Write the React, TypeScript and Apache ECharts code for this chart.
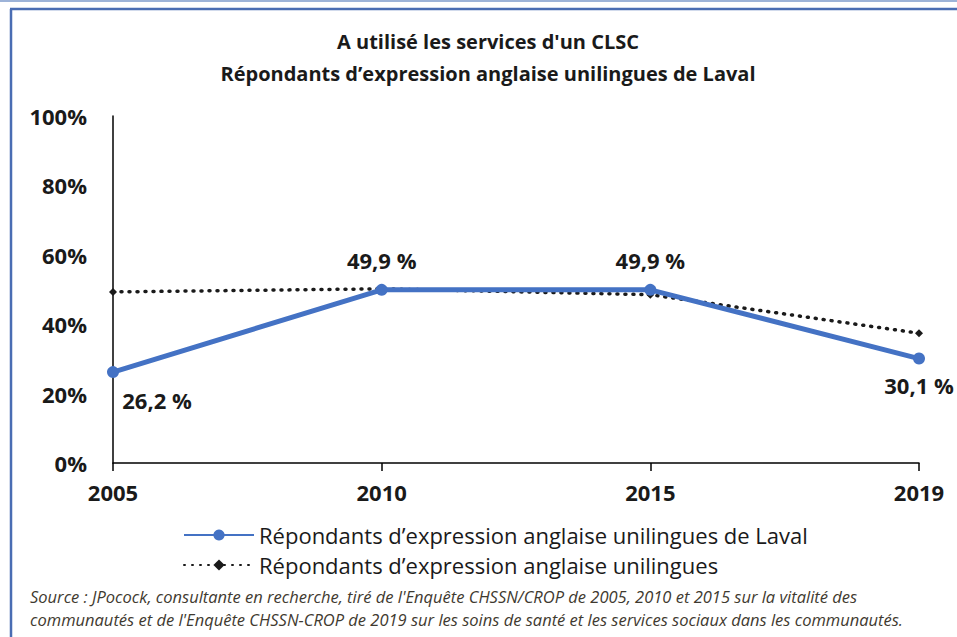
import React, { useEffect, useRef } from "react";
import * as echarts from "echarts";

const categories = ["2005", "2010", "2015", "2019"];
const lavalValues = [26.2, 49.9, 49.9, 30.1];
const allValues = [49.3, 50.2, 48.5, 37.4];
const yTicks = { min: 0, max: 100, interval: 20 };
const titleLines = ["A utilisé les services d'un CLSC", "Répondants d’expression anglaise unilingues de Laval"];
const seriesNames = ["Répondants d’expression anglaise unilingues de Laval", "Répondants d’expression anglaise unilingues"];
const sourceLines = [
  "Source : JPocock, consultante en recherche, tiré de l'Enquête CHSSN/CROP de 2005, 2010 et 2015 sur la vitalité des",
  "communautés et de l'Enquête CHSSN-CROP de 2019 sur les soins de santé et les services sociaux dans les communautés.",
];

const FONT = "'Open Sans', Lato, sans-serif";

export default function App() {
  const ref = useRef<HTMLDivElement>(null);
  useEffect(() => {
    if (!ref.current) return;
    const chart = echarts.init(ref.current, undefined, { renderer: "svg" });
    const fmt = (v: number) => v.toFixed(1).replace(".", ",") + " %";
    chart.setOption({
      animation: false,
      backgroundColor: "#ffffff",
      textStyle: { fontFamily: FONT },
      title: {
        text: titleLines.join("\n"),
        left: 483,
        textAlign: "center",
        top: 20,
        textStyle: { fontFamily: FONT, fontSize: 20, fontWeight: "bold", color: "#1a1a1a", lineHeight: 32 },
      },
      grid: { left: 113, right: 38, top: 116, bottom: 174, containLabel: false },
      xAxis: {
        type: "category",
        data: categories,
        boundaryGap: false,
        axisLine: { lineStyle: { color: "#000", width: 1.5 } },
        axisTick: { show: true, length: 8, lineStyle: { color: "#000", width: 1.5 } },
        axisLabel: { margin: 18, fontSize: 22, fontWeight: "bold", color: "#1a1a1a", fontFamily: FONT },
      },
      yAxis: {
        type: "value",
        min: yTicks.min,
        max: yTicks.max,
        interval: yTicks.interval,
        axisLine: { show: true, lineStyle: { color: "#000", width: 1.5 } },
        axisTick: { show: false },
        splitLine: { show: false },
        axisLabel: { formatter: "{value}%", margin: 26, fontSize: 22, fontWeight: "bold", color: "#1a1a1a", fontFamily: FONT },
      },
      legend: {
        orient: "vertical",
        left: 178,
        top: 519,
        itemWidth: 70,
        itemHeight: 14,
        itemGap: 8,
        textStyle: { fontSize: 22, color: "#1a1a1a", fontFamily: FONT },
        data: seriesNames,
      },
      series: [
        {
          name: seriesNames[1],
          type: "line",
          data: allValues,
          symbol: "diamond",
          symbolSize: 8,
          itemStyle: { color: "#1a1a1a" },
          lineStyle: { color: "#1a1a1a", width: 3.5, type: [1, 7], cap: "round" },
          z: 2,
        },
        {
          name: seriesNames[0],
          type: "line",
          symbol: "circle",
          symbolSize: 12,
          itemStyle: { color: "#4472C4" },
          lineStyle: { color: "#4472C4", width: 5 },
          z: 3,
          label: {
            show: true,
            fontSize: 22,
            fontWeight: "bold",
            color: "#1a1a1a",
            fontFamily: FONT,
            formatter: (p: any) => fmt(p.value),
          },
          data: lavalValues.map((v, i) => {
            if (i === 0) return { value: v, label: { position: "bottom", distance: 11, offset: [44, 0] } };
            if (i === 3) return { value: v, label: { position: "bottom", distance: 9 } };
            return { value: v, label: { position: "top", distance: 13 } };
          }),
        },
      ],
      graphic: [
        { type: "rect", shape: { x: 0, y: 0, width: 957, height: 2 }, style: { fill: "#9db3d8" }, silent: true },
        { type: "line", shape: { x1: 10, y1: 9, x2: 957, y2: 9 }, style: { stroke: "#4a6db3", lineWidth: 2.5 }, silent: true },
        { type: "line", shape: { x1: 11, y1: 9, x2: 11, y2: 637 }, style: { stroke: "#4a6db3", lineWidth: 2.5 }, silent: true },
        {
          type: "text",
          left: 30,
          top: 585,
          style: {
            text: sourceLines.join("\n"),
            font: `italic 16.5px ${FONT}`,
            fill: "#3f3a30",
            lineHeight: 23,
          },
          silent: true,
        },
      ],
    });
    return () => chart.dispose();
  }, []);
  return <div ref={ref} style={{ position: "fixed", left: 0, top: 0, width: 957, height: 637 }} />;
}
